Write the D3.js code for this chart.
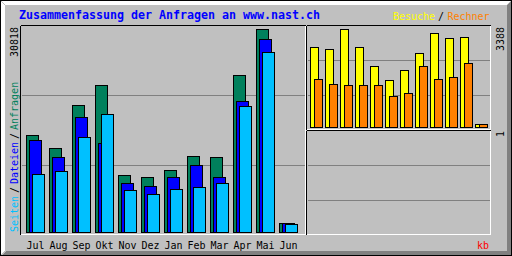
<!DOCTYPE html>
<html>
<head>
<meta charset="utf-8">
<script src="https://cdn.jsdelivr.net/npm/d3@7"></script>
<style>
  html, body { margin: 0; padding: 0; background: #c0c0c0; }
  svg { display: block; }
  text { font-family: 'DejaVu Sans Mono', monospace; }
</style>
</head>
<body>
<svg></svg>
<script>
// monthly summary
let months = ['Jul', 'Aug', 'Sep', 'Okt', 'Nov', 'Dez', 'Jan', 'Feb', 'Mar', 'Apr', 'Mai', 'Jun']
let anfragen = [14680, 12707, 19235, 22271, 8608, 8304, 9367, 11492, 11340, 23789, 30818, 1321]
let dateien = [13921, 11340, 17413, 13466, 7393, 6938, 8304, 10126, 8304, 19842, 29254, 1321]
let seiten = [8760, 9215, 14377, 17868, 6331, 5723, 6482, 6786, 7393, 19083, 27281, 1169]
let besuche = [2766, 2697, 3388, 2766, 2109, 1625, 1971, 2558, 3250, 3077, 3111, 104]
let rechner = [1659, 1487, 1452, 1452, 1452, 1072, 1175, 2109, 1659, 1729, 2213, 104]
let kbytes = [0, 0, 0, 0, 0, 0, 0, 0, 0, 0, 0, 0]
let maxHits = 30818
let maxVisits = 3388
let maxKb = 1

let width = 512
let height = 256

let grey = '#c0c0c0'
let dkgrey = '#808080'
let colHits = '#00805c'
let colFiles = '#0000ff'
let colPages = '#00c0ff'
let colVisits = '#ffff00'
let colSites = '#ff8000'
let colKb = '#ff0000'

let svg = d3.select('svg')
            .attr('width', width)
            .attr('height', height)

let line = (x1, y1, x2, y2, color) => {
    svg.append('line')
       .attr('x1', x1 + 0.5).attr('y1', y1 + 0.5)
       .attr('x2', x2 + 0.5).attr('y2', y2 + 0.5)
       .attr('stroke', color)
       .attr('stroke-width', 1)
       .attr('shape-rendering', 'crispEdges')
}

let drawFrame = () => {
    svg.append('rect')
       .attr('x', 0).attr('y', 0)
       .attr('width', width).attr('height', height)
       .attr('fill', grey)
    for (let i = 1; i < 5; i++) {
        line(i, i, width - i - 2, i, '#ffffff')
        line(i, i, i, height - i - 2, '#ffffff')
        line(i + 1, height - i - 1, width - i - 1, height - i - 1, dkgrey)
        line(width - i - 1, i, width - i - 1, height - i - 1, dkgrey)
    }
    svg.append('rect')
       .attr('x', 0.5).attr('y', 0.5)
       .attr('width', width - 1).attr('height', height - 1)
       .attr('fill', 'none')
       .attr('stroke', '#000000')
}

let drawPanel = (x1, y1, x2, y2, grid) => {
    grid.forEach(gy => line(x1 + 1, gy, x2 - 1, gy, dkgrey))
    line(x1, y1, x2, y1, '#000000')
    line(x1, y1, x1, y2, '#000000')
    line(x1, y2, x2, y2, '#ffffff')
    line(x2, y1, x2, y2, '#ffffff')
}

let xMain = d3.scaleBand().domain(months).range([26, 26 + 23 * 12])
let yMain = d3.scaleLinear().domain([0, maxHits]).range([232, 29])
let xVisit = d3.scaleBand().domain(months).range([310, 310 + 15 * 12])
let yVisit = d3.scaleLinear().domain([0, maxVisits]).range([127, 29])
let yKb = d3.scaleLinear().domain([0, maxKb]).range([232, 134])

let drawBars = (values, xScale, yScale, offset, barWidth, base, color) => {
    let data = values.map((v, i) => ({ m: months[i], v: v })).filter(d => d.v > 0)
    svg.append('g')
       .selectAll('rect')
       .data(data)
       .enter()
       .append('rect')
       .attr('x', d => xScale(d.m) + offset + 0.5)
       .attr('y', d => Math.round(yScale(d.v)) + 0.5)
       .attr('width', barWidth)
       .attr('height', d => base - Math.round(yScale(d.v)))
       .attr('fill', color)
       .attr('stroke', '#000000')
       .attr('stroke-width', 1)
       .attr('shape-rendering', 'crispEdges')
}

let drawTexts = () => {
    svg.append('text')
       .attr('x', 19).attr('y', 19)
       .attr('font-size', '11.63px')
       .attr('font-weight', 'bold')
       .attr('fill', colFiles)
       .text('Zusammenfassung der Anfragen an www.nast.ch')

    let small = (x, y, str, color, rot) => {
        let t = svg.append('text')
                   .attr('x', x).attr('y', y)
                   .attr('font-size', '10px')
                   .attr('fill', color)
                   .text(str)
        if (rot) t.attr('transform', 'rotate(-90,' + x + ',' + y + ')')
        return t
    }

    small(393, 20, 'Besuche', colVisits)
    small(438, 20, '/', '#000000')
    small(447.5, 20, 'Rechner', colSites)

    small(18, 232, 'Seiten', colPages, true)
    small(18, 193, '/', '#000000', true)
    small(18, 184, 'Dateien', colFiles, true)
    small(18, 139, '/', '#000000', true)
    small(18, 130, 'Anfragen', colHits, true)

    small(18, 57, String(maxHits), '#000000', true)
    small(503.5, 51, String(maxVisits), '#000000', true)
    small(503.5, 137, String(maxKb), '#000000', true)

    svg.append('g')
       .selectAll('text')
       .data(months)
       .enter()
       .append('text')
       .attr('x', d => xMain(d) + 0.5)
       .attr('y', 249)
       .attr('font-size', '10px')
       .attr('fill', '#000000')
       .text(d => d)

    small(477, 249, 'kb', colKb)
}

drawFrame()
drawPanel(20, 25, 305, 234, [95, 165])
drawPanel(306, 25, 490, 129, [60, 95])
drawPanel(306, 130, 490, 234, [165, 200])

drawBars(anfragen, xMain, yMain, 0, 12, 232, colHits)
drawBars(dateien, xMain, yMain, 3, 12, 232, colFiles)
drawBars(seiten, xMain, yMain, 6, 12, 232, colPages)

drawBars(besuche, xVisit, yVisit, 0, 8, 127, colVisits)
drawBars(rechner, xVisit, yVisit, 4, 8, 127, colSites)
drawBars(kbytes, xVisit, yKb, 0, 8, 232, colKb)

drawTexts()
</script>
</body>
</html>
